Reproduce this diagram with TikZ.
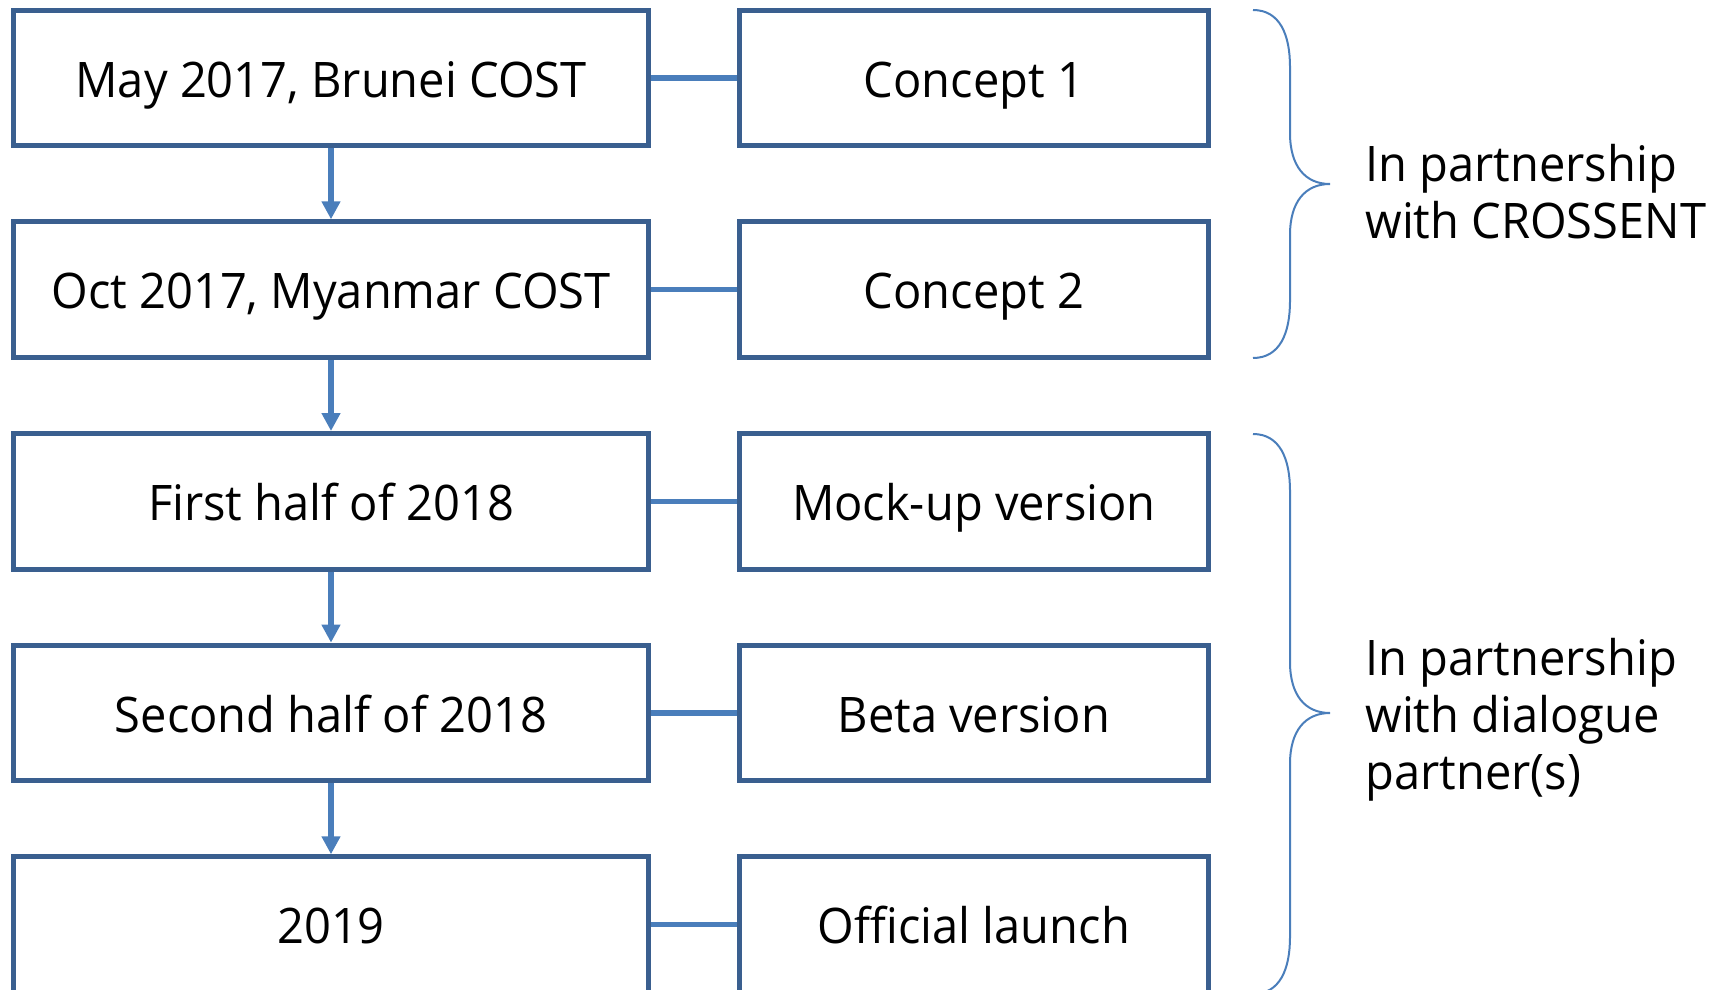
\documentclass[tikz,border=0pt]{standalone}
\usepackage{fontspec}
\setmainfont[FakeStretch=0.96]{Open Sans}
\usetikzlibrary{arrows.meta,backgrounds}
\definecolor{boxline}{HTML}{3A5F8F}
\definecolor{linkblue}{HTML}{4A7EBB}
\begin{document}
\begin{tikzpicture}[x=0.5pt,y=-0.5pt,
  boxtext/.style={font=\fontsize{24.5}{29}\selectfont, text height=19.3pt, text depth=0pt, inner sep=0pt},
  lbox/.style={boxtext, draw=boxline, line width=2.5pt, minimum width=317.5pt, minimum height=67.8pt},
  rbox/.style={boxtext, draw=boxline, line width=2.5pt, minimum width=234.6pt, minimum height=67.8pt},
  link/.style={draw=linkblue, line width=2.75pt},
  flow/.style={draw=linkblue, line width=3pt, -{Triangle[width=9pt,length=9pt]}},
  bracestyle/.style={draw=linkblue, line width=1pt},
  note/.style={anchor=base west, align=left, inner sep=0pt, font=\fontsize{24.5}{28.5}\selectfont}]
\useasboundingbox (0,0) rectangle (1725,990);
\clip (0,0) rectangle (1725,990);

% timeline column
\node[lbox] (l1) at (331,78)    {May 2017, Brunei COST};
\node[lbox] (l2) at (331,289.6) {Oct 2017, Myanmar COST};
\node[lbox] (l3) at (331,501.3) {First half of 2018};
\node[lbox] (l4) at (331,712.9) {Second half of 2018};
\node[lbox] (l5) at (331,924.6) {2019};

% deliverable column
\node[rbox] (r1) at (973.9,78)    {Concept 1};
\node[rbox] (r2) at (973.9,289.6) {Concept 2};
\node[rbox] (r3) at (973.9,501.3) {Mock-up version};
\node[rbox] (r4) at (973.9,712.9) {Beta version};
\node[rbox] (r5) at (973.9,924.6) {Official launch};

\begin{scope}[on background layer]
  \foreach \i in {1,...,5} \draw[link] (l\i.east) -- (r\i.west);
\end{scope}
\foreach \i/\j in {1/2,2/3,3/4,4/5} \draw[flow] (l\i.south) -- (l\j.north);

% curly braces: top, tip, bottom
\newcommand\sidebrace[3]{%
  \draw[bracestyle] (1253,#1) .. controls (1280,#1) and (1290,{#1+25}) .. (1290,{#1+57})
    -- (1290,{#2-51}) .. controls (1290,{#2-18}) and (1305,#2) .. (1330,#2)
    .. controls (1305,#2) and (1290,{#2+18}) .. (1290,{#2+51})
    -- (1290,{#3-57}) .. controls (1290,{#3-25}) and (1280,#3) .. (1253,#3);}
\sidebrace{10}{184}{358}
\sidebrace{434}{713}{994}

\node[note] (n1) at (1365,238.3) {In partnership\\with CROSSENT};
\node[note] (n2) at (1365,789)   {In partnership\\with dialogue\\partner(s)};
\end{tikzpicture}
\end{document}
